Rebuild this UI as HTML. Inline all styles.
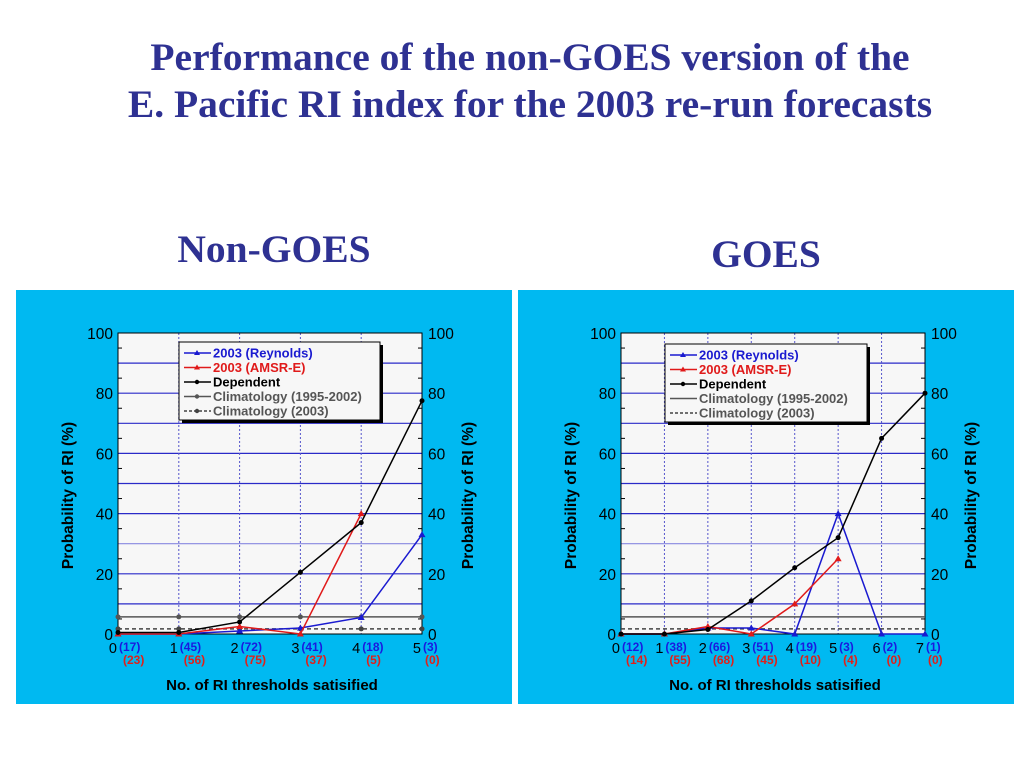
<!DOCTYPE html>
<html><head><meta charset="utf-8"><style>
html,body{margin:0;padding:0;background:#fff;width:1024px;height:768px;overflow:hidden}
svg text{font-family:"Liberation Sans",sans-serif}
.t{font-family:"Liberation Serif",serif;font-weight:bold;fill:#2e3192}
</style></head><body>
<svg id="s" width="1024" height="768" xmlns="http://www.w3.org/2000/svg">
<text class="t" x="530" y="70" font-size="39.5" text-anchor="middle">Performance of the non-GOES version of the</text>
<text class="t" x="530" y="117" font-size="39.5" text-anchor="middle">E. Pacific RI index for the 2003 re-run forecasts</text>
<text class="t" x="274" y="262" font-size="39.5" text-anchor="middle">Non-GOES</text>
<text class="t" x="766" y="267" font-size="39.5" text-anchor="middle">GOES</text>
</svg>
<script>
// Non-GOES panel data
const ngCats=[0,1,2,3,4,5];
const ngNRey=['(17)','(45)','(72)','(41)','(18)','(3)'];
const ngNAm=['(23)','(56)','(75)','(37)','(5)','(0)'];
const ngRey=[0,0,1,2,5.5,33];
const ngAm=[0,0,2.5,0,40];
const ngDep=[0.5,0.5,4,20.5,37,77.5];
const ngClim=[5.7,5.7,5.7,5.7,5.7,5.7];
const ngClim03=[1.7,1.7,1.7,1.7,1.7,1.7];
// GOES panel data
const gCats=[0,1,2,3,4,5,6,7];
const gNRey=['(12)','(38)','(66)','(51)','(19)','(3)','(2)','(1)'];
const gNAm=['(14)','(55)','(68)','(45)','(10)','(4)','(0)','(0)'];
const gRey=[0,0,2,2,0,40,0,0];
const gAm=[0,0,2.5,0,10,25];
const gDep=[0,0,1.5,11,22,32,65,80];
const gClim=[5.7,5.7,5.7,5.7,5.7,5.7,5.7,5.7];
const gClim03=[1.7,1.7,1.7,1.7,1.7,1.7,1.7,1.7];
const yTicks=[0,20,40,60,80,100];

const NS='http://www.w3.org/2000/svg';
const svg=document.getElementById('s');
function mk(tag,attrs,parent,txt){const e=document.createElementNS(NS,tag);for(const k in attrs)e.setAttribute(k,attrs[k]);if(txt!==undefined)e.textContent=txt;(parent||svg).appendChild(e);return e;}

function panel(px,pl,pr,cats,nRey,nAm,rey,am,dep,clim,clim03,climMarkers,leg,name){
  const g=mk('g',{});
  
  
  const bg=mk('rect',{x:px,y:290,width:496,height:414,fill:'#00b9f1'},g);
  
  
  const top=333,bot=634;
  const n=cats.length-1;
  const X=v=>pl+(pr-pl)*v/n;
  const Y=v=>bot-(bot-top)*v/100;
  const pa=mk('rect',{x:pl,y:top,width:pr-pl,height:bot-top,fill:'#f7f7f7'},g);
  
  
  for(let v=10;v<100;v+=10){const l=mk('line',{x1:pl,x2:pr,y1:Y(v),y2:Y(v),stroke:v==30?'#8888e0':'#2a2ac8','stroke-width':1.2},g);
    
    }
  for(let v=5;v<100;v+=10){mk('line',{x1:pl,x2:pl+4,y1:Y(v),y2:Y(v),stroke:'#000'},g);mk('line',{x1:pr-4,x2:pr,y1:Y(v),y2:Y(v),stroke:'#000'},g);}
  cats.forEach((c,i)=>{if(i>0&&i<n){const l=mk('line',{x1:X(c),x2:X(c),y1:top,y2:bot,stroke:'#5555cc','stroke-dasharray':'2,2'},g);
    
    }});
  const fr=mk('rect',{x:pl,y:top,width:pr-pl,height:bot-top,fill:'none',stroke:'#000','stroke-width':1},g);
  
  
  yTicks.forEach(t=>{
    const a=mk('text',{x:pl-5,y:Y(t)+6,'font-size':15.5,'text-anchor':'end',fill:'#000'},g,t);
    
    
    const b=mk('text',{x:pr+6,y:Y(t)+6,'font-size':15.5,fill:'#000'},g,t);
    
    
  });
  cats.forEach((c,i)=>{
    const a=mk('text',{x:X(c)-1,y:653,'font-size':14.5,'text-anchor':'end',fill:'#000'},g,c);
    
    
    const b=mk('text',{x:X(c)+1,y:651,'font-size':12,'font-weight':'bold',fill:'#1a1ae0'},g,nRey[i]);
    
    
    const d=mk('text',{x:X(c)+(i==n?3:5),y:664,'font-size':12,'font-weight':'bold',fill:'#e0201a'},g,nAm[i]);
    
    
  });
  const cy=(top+bot)/2;
  const yl=mk('text',{x:0,y:0,'font-size':15.5,'font-weight':'bold','text-anchor':'middle',transform:`translate(${pl-45},${cy+12}) rotate(-90)`},g,'Probability of RI (%)');
  
  
  const yr=mk('text',{x:0,y:0,'font-size':15.5,'font-weight':'bold','text-anchor':'middle',transform:`translate(${pr+51},${cy+12}) rotate(-90)`},g,'Probability of RI (%)');
  
  
  const xl=mk('text',{x:(pl+pr)/2+2,y:690,'font-size':15,'font-weight':'bold','text-anchor':'middle'},g,'No. of RI thresholds satisified');
  
  
  function series(vals,color,dash,marker,nm){
    const pts=vals.map((v,i)=>X(cats[i])+','+Y(v)).join(' ');
    const p=mk('polyline',{points:pts,fill:'none',stroke:color,'stroke-width':1.5,'stroke-dasharray':dash||'none'},g);
    
    
    if(marker)vals.forEach((v,i)=>{
      const x=X(cats[i]),y=Y(v);
      let m;
      if(marker=='tri')m=mk('polygon',{points:`${x},${y-3.5} ${x-3.5},${y+2.5} ${x+3.5},${y+2.5}`,fill:color},g);
      else m=mk('circle',{cx:x,cy:y,r:2.5,fill:color},g);
      
      
    });
  }
  series(clim,'#555',null,climMarkers?'dot':null,'climatology-1995-2002');
  series(clim03,'#444','4,3',climMarkers?'dot':null,'climatology-2003');
  series(rey,'#1a1ad0',null,'tri','reynolds');
  series(am,'#e01a1a',null,'tri','amsr-e');
  series(dep,'#000',null,'dot','dependent');
  // legend
  const lx=leg[0],ly=leg[1],lw=leg[2];
  mk('rect',{x:lx+3,y:ly+3,width:lw,height:78,fill:'#000'},g);
  const lb=mk('rect',{x:lx,y:ly,width:lw,height:78,fill:'#f7f7f7',stroke:'#000'},g);
  
  
  const items=[['2003 (Reynolds)','#1a1ad0','#1a1ad0',null,'tri'],['2003 (AMSR-E)','#e01a1a','#e01a1a',null,'tri'],['Dependent','#000','#000',null,'dot'],['Climatology (1995-2002)','#555','#555',null,climMarkers?'dot':null],['Climatology (2003)','#444','#555','3,2',climMarkers?'dot':null]];
  items.forEach((it,i)=>{
    const yy=ly+11+i*14.5;
    mk('line',{x1:lx+5,x2:lx+32,y1:yy,y2:yy,stroke:it[1],'stroke-width':1.5,'stroke-dasharray':it[3]||'none'},g);
    if(it[4]=='tri')mk('polygon',{points:`${lx+18},${yy-3} ${lx+15},${yy+2} ${lx+21},${yy+2}`,fill:it[1]},g);
    if(it[4]=='dot')mk('circle',{cx:lx+18,cy:yy,r:2.2,fill:it[1]},g);
    const t=mk('text',{x:lx+34,y:yy+4.5,'font-size':13,'font-weight':'bold',fill:it[2]},g,it[0]);
    
    
  });
}
panel(16,118,422,ngCats,ngNRey,ngNAm,ngRey,ngAm,ngDep,ngClim,ngClim03,true,[179,342,201],'non-goes-chart');
panel(518,621,925,gCats,gNRey,gNAm,gRey,gAm,gDep,gClim,gClim03,false,[665,344,202],'goes-chart');
</script>
</body></html>
